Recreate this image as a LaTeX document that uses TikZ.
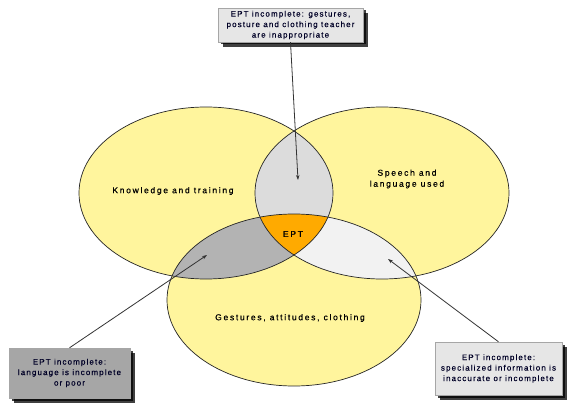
\documentclass[tikz,border=0pt]{standalone}
\usepackage{fontspec}
\setmainfont{Liberation Sans}
\newfontfamily\lblfont[LetterSpace=20,FakeBold=0.6]{Liberation Sans}
\newfontfamily\boxfont[LetterSpace=14,FakeBold=0.5]{Liberation Sans}
\usetikzlibrary{arrows.meta,shadows}
\definecolor{setyellow}{HTML}{FFF59D}
\definecolor{lensgrey}{HTML}{DCDCDC}
\definecolor{darklens}{HTML}{B3B3B3}
\definecolor{palelens}{HTML}{F2F2F2}
\definecolor{coreorange}{HTML}{FFAA00}
\definecolor{boxlight}{HTML}{E6E6E6}
\definecolor{boxdark}{HTML}{A6A6A6}
\tikzset{
  setlabel/.style={font=\lblfont\fontsize{8.5}{11}\selectfont, align=center, text=black},
  notebox/.style={rectangle, draw=gray!70, line width=0.4pt,
    font=\boxfont\fontsize{8}{10.5}\selectfont, align=center, text=black!85!blue,
    inner sep=1pt,
    double copy shadow={shadow xshift=2.5pt, shadow yshift=-2.5pt, opacity=0.75, fill=black, draw=none}},
  pointer/.style={draw=black!80, line width=0.8pt, -{Stealth[length=5pt,width=3.5pt]}},
  outline/.style={draw=black!85, line width=0.7pt}
}
\begin{document}
\begin{tikzpicture}[x=1pt,y=1pt]
\useasboundingbox[fill=white] (0,0) rectangle (574,408);
% the three sets
\def\setL{(206,215) ellipse [x radius=127, y radius=86]}
\def\setR{(382,215) ellipse [x radius=127, y radius=86]}
\def\setB{(294,108) ellipse [x radius=127, y radius=86]}
\fill[setyellow] \setL;
\fill[setyellow] \setR;
\fill[setyellow] \setB;
% pairwise overlaps
\begin{scope}\clip \setL; \fill[lensgrey] \setR; \end{scope}
\begin{scope}\clip \setL; \fill[darklens] \setB; \end{scope}
\begin{scope}\clip \setR; \fill[palelens] \setB; \end{scope}
% common core
\begin{scope}\clip \setL; \clip \setR; \fill[coreorange] \setB; \end{scope}
\draw[outline] \setL;
\draw[outline] \setR;
\draw[outline] \setB;
% set labels
\node[setlabel] (know) at (173,217) {Knowledge and training};
\node[setlabel] (speech) at (407,229) {Speech and\\language used};
\node[setlabel] (gest) at (290,90) {Gestures, attitudes, clothing};
\node[setlabel] (ept) at (293,174) {EPT};
% note boxes
\node[notebox, fill=boxlight, minimum width=145pt, minimum height=34pt] (topnote) at (290.5,383)
  {EPT incomplete: gestures,\\posture and clothing teacher\\are inappropriate};
\node[notebox, fill=boxdark, minimum width=121pt, minimum height=50pt] (leftnote) at (69.5,35)
  {EPT incomplete:\\language is incomplete\\or poor};
\node[notebox, fill=boxlight, minimum width=127pt, minimum height=53pt] (rightnote) at (498.5,39.5)
  {EPT incomplete:\\specialized information is\\inaccurate or incomplete};
% arrow targets
\coordinate (toptip) at (298,228);
\coordinate (lefttip) at (207,153);
\coordinate (righttip) at (388,149);
\draw[pointer] (topnote.south) -- (toptip);
\draw[pointer] (leftnote.north) -- (lefttip);
\draw[pointer] (rightnote.north) -- (righttip);
\end{tikzpicture}
\end{document}
